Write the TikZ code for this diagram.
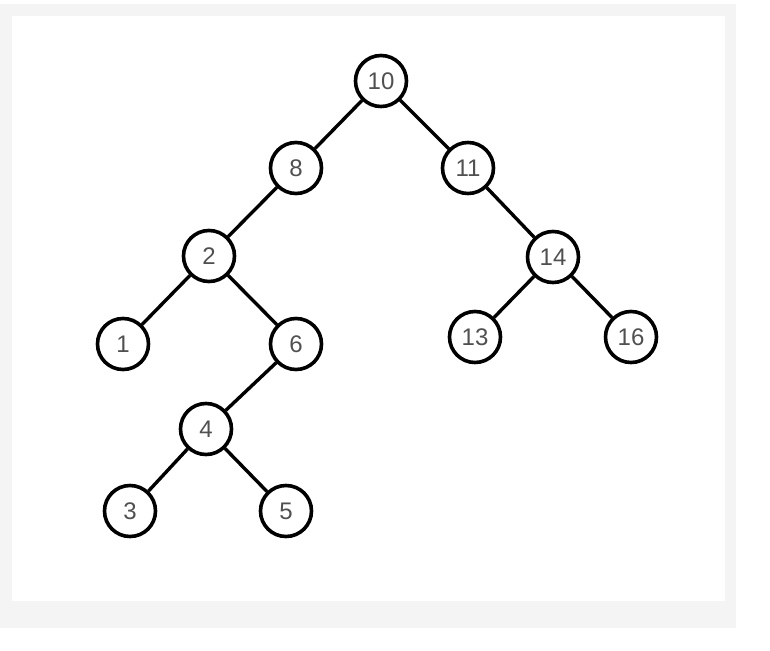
\documentclass[tikz,border=0pt]{standalone}
\usepackage{fontspec}
\setmainfont{Liberation Sans}
\definecolor{frame}{HTML}{F4F4F4}
\definecolor{digit}{HTML}{505050}
\begin{document}
\begin{tikzpicture}[x=1pt,y=-1pt,
  tnode/.style={circle,draw=black,line width=3.6pt,fill=white,minimum size=51pt,inner sep=0pt,
    font=\fontsize{24}{26}\selectfont,text=digit},
  tedge/.style={line width=3.4pt,draw=black}]
\useasboundingbox (0,0) rectangle (770,650);
\fill[white] (0,0) rectangle (770,650);
\fill[frame] (0,4) rectangle (736,628);
\fill[white] (12,16) rectangle (725,601);
\node[tnode] (n10) at (381,81) {10};
\node[tnode] (n8) at (296,168) {8};
\node[tnode] (n11) at (468,168) {11};
\node[tnode] (n2) at (209,256) {2};
\node[tnode] (n14) at (553,257) {14};
\node[tnode] (n1) at (123,344) {1};
\node[tnode] (n6) at (296,344) {6};
\node[tnode] (n13) at (475,337) {13};
\node[tnode] (n16) at (631,337) {16};
\node[tnode] (n4) at (206,429) {4};
\node[tnode] (n3) at (130,511) {3};
\node[tnode] (n5) at (286,511) {5};
\draw[tedge] (n10) -- (n8);
\draw[tedge] (n10) -- (n11);
\draw[tedge] (n8) -- (n2);
\draw[tedge] (n11) -- (n14);
\draw[tedge] (n2) -- (n1);
\draw[tedge] (n2) -- (n6);
\draw[tedge] (n14) -- (n13);
\draw[tedge] (n14) -- (n16);
\draw[tedge] (n6) -- (n4);
\draw[tedge] (n4) -- (n3);
\draw[tedge] (n4) -- (n5);
\end{tikzpicture}
\end{document}
